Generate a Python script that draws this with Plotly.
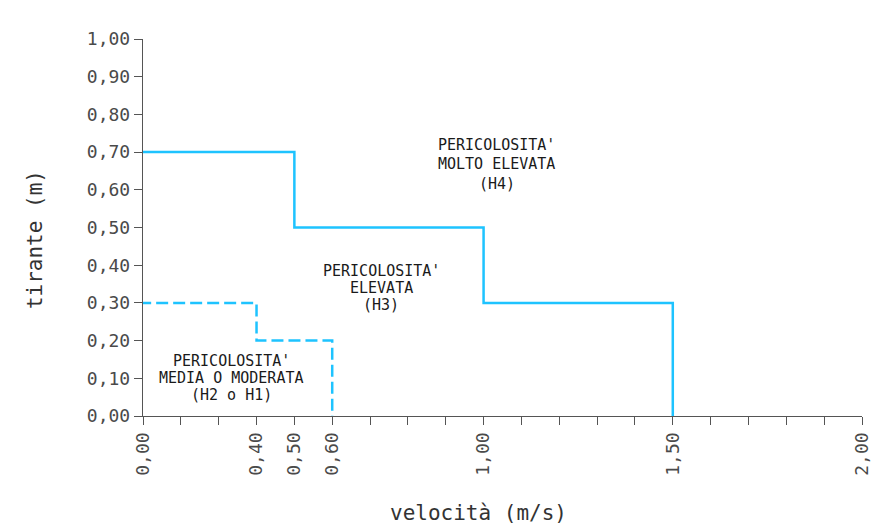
import plotly.graph_objects as go

# --- data ---
high_velocity = [0.0, 0.5, 1.0, 1.5]        # m/s
high_depth = [0.70, 0.50, 0.30, 0.00]       # m
low_velocity = [0.0, 0.4, 0.6]
low_depth = [0.30, 0.20, 0.00]

x_tick_vals = [0.1, 0.2, 0.3, 0.4, 0.5, 0.6, 0.7, 0.8, 0.9, 1.0,
               1.1, 1.2, 1.3, 1.4, 1.5, 1.6, 1.7, 1.8, 1.9, 2.0]
x_tick_text = ["0,00", "", "", "0,40", "0,50", "0,60", "", "", "", "1,00",
               "", "", "", "", "1,50", "", "", "", "", "2,00"]
y_tick_vals = [0.0, 0.1, 0.2, 0.3, 0.4, 0.5, 0.6, 0.7, 0.8, 0.9, 1.0]
y_tick_text = ["0,00", "0,10", "0,20", "0,30", "0,40", "0,50",
               "0,60", "0,70", "0,80", "0,90", "1,00"]

zone_h4 = ["PERICOLOSITA'", "MOLTO ELEVATA", "(H4)"]
zone_h3 = ["PERICOLOSITA'", "ELEVATA", "(H3)"]
zone_h2 = ["PERICOLOSITA'", "MEDIA O MODERATA", "(H2 o H1)"]

FONT = "DejaVu Sans Mono"
LINE_COLOR = "#1EC3FF"
AXIS_COLOR = "#555555"

fig = go.Figure()
fig.add_trace(go.Scatter(x=high_velocity, y=high_depth, mode="lines",
                         line=dict(color=LINE_COLOR, width=2.5, shape="hv"),
                         showlegend=False, hoverinfo="skip"))
fig.add_trace(go.Scatter(x=low_velocity, y=low_depth, mode="lines",
                         line=dict(color=LINE_COLOR, width=2.5, shape="hv",
                                   dash="12px,5px"),
                         showlegend=False, hoverinfo="skip"))

annotations = []
def add_zone(lines, xc, ys):
    for txt, yy in zip(lines, ys):
        annotations.append(dict(x=xc, y=yy, xref="x", yref="y", text=txt,
                                showarrow=False, xanchor="center", yanchor="middle",
                                font=dict(family=FONT, size=15, color="#1a1a1a")))

add_zone(zone_h4, 1.035, [0.719, 0.668, 0.615])
add_zone(zone_h3, 0.729, [0.385, 0.340, 0.294])
add_zone(zone_h2, 0.335, [0.146, 0.101, 0.056])

annotations.append(dict(x=0.467, y=-0.257, xref="paper", yref="paper",
                        text="velocità (m/s)", showarrow=False,
                        xanchor="center", yanchor="middle",
                        font=dict(family=FONT, size=21, color="#333333")))
annotations.append(dict(x=-0.150, y=0.467, xref="paper", yref="paper",
                        text="tirante (m)", showarrow=False, textangle=-90,
                        xanchor="center", yanchor="middle",
                        font=dict(family=FONT, size=21, color="#333333")))

fig.update_layout(
    width=872, height=530,
    margin=dict(l=143, r=10, t=39, b=114, autoexpand=False),
    paper_bgcolor="white", plot_bgcolor="white",
    annotations=annotations,
    hovermode=False,
    xaxis=dict(range=[0.1, 2.0], tickvals=x_tick_vals, ticktext=x_tick_text,
               tickangle=-90, ticks="outside", ticklen=8, tickwidth=1,
               tickcolor=AXIS_COLOR, showline=True, linecolor=AXIS_COLOR,
               linewidth=1.2, showgrid=False, zeroline=False, automargin=False,
               ticklabeloverflow="allow",
               tickfont=dict(family=FONT, size=18, color="#4a4a4a")),
    yaxis=dict(range=[0.0, 1.0], tickvals=y_tick_vals, ticktext=y_tick_text,
               ticks="outside", ticklen=8, tickwidth=1,
               tickcolor=AXIS_COLOR, showline=True, linecolor=AXIS_COLOR,
               linewidth=1.2, showgrid=False, zeroline=False, automargin=False,
               ticklabeloverflow="allow",
               tickfont=dict(family=FONT, size=18, color="#4a4a4a")),
)

fig.write_html("out.html",
               config={"displayModeBar": False, "staticPlot": True},
               post_script="document.body.style.margin='0';"
                           "document.body.style.overflow='hidden';")
